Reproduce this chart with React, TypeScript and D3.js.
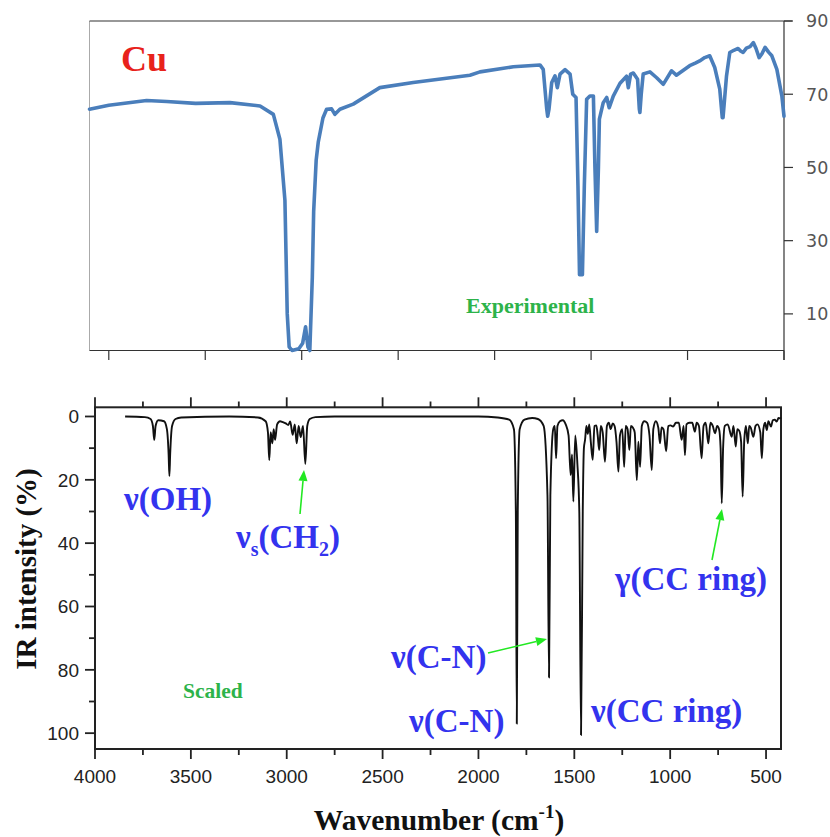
import React from "react";
import * as d3 from "d3";

// ---------- Data ----------
// Experimental spectrum (top): wavenumber (cm-1) and transmittance (%)
const expWn = [4000, 3900, 3704, 3600, 3450, 3272, 3116, 3047, 3013, 2987, 2975, 2965, 2950, 2915, 2895, 2880, 2868, 2858, 2845, 2838, 2825, 2814, 2790, 2771, 2745, 2728, 2702, 2633, 2495, 2322, 2028, 1976, 1803, 1665, 1648, 1630, 1625, 1618, 1604, 1587, 1575, 1561, 1535, 1509, 1495, 1478, 1468, 1460, 1445, 1435, 1423, 1406, 1388, 1380, 1371, 1362, 1357, 1337, 1319, 1306, 1285, 1250, 1216, 1207, 1195, 1181, 1159, 1150, 1147, 1140, 1130, 1095, 1060, 1026, 983, 958, 889, 860, 837, 811, 785, 759, 733, 720, 716, 698, 681, 660, 638, 625, 612, 595, 576, 559, 545, 529, 515, 498, 480, 463, 437, 411, 400];
const expT = [65.9, 67.0, 68.3, 68.0, 67.5, 67.7, 66.8, 64.5, 57.7, 41, 10, 1, 0, 0.5, 2, 6.5, 1, 0, 20, 38, 52, 57, 63.5, 65.9, 66, 64.5, 65.9, 67.3, 71.8, 73.2, 75.2, 76.1, 77.5, 78.0, 76.8, 66, 64, 66, 73.2, 75, 71.8, 75.5, 76.7, 75.5, 70, 69.1, 45, 20.7, 20.7, 45, 68.6, 69.5, 69.5, 50, 32.5, 50, 63.2, 67.7, 69.1, 66.3, 69.5, 73, 74.9, 71.8, 75.5, 75.8, 74.1, 66, 65, 70, 75.5, 76.1, 74.5, 72.7, 76.4, 75.2, 77.8, 78.5, 79.1, 80, 80.5, 77.3, 71.4, 63.6, 63.6, 75, 81.4, 82.0, 82.5, 81.8, 81.4, 82.6, 83, 84.1, 82.5, 80, 81, 82.8, 81.5, 80.5, 76.8, 69.5, 64];

// Scaled (calculated) spectrum (bottom): wavenumber and IR intensity (%)
const calcWn = [3843, 3740, 3710, 3698, 3691, 3684, 3670, 3640, 3625, 3616, 3612, 3608, 3598, 3580, 3550, 3300, 3150, 3110, 3098, 3091, 3084, 3075, 3068, 3061, 3050, 3035, 3020, 3005, 2992, 2982, 2969, 2958, 2948, 2938, 2927, 2915, 2903, 2893, 2880, 2850, 2750, 2000, 1900, 1840, 1815, 1805, 1800, 1795, 1785, 1760, 1720, 1690, 1660, 1640, 1632, 1625, 1610, 1602, 1595, 1588, 1575, 1560, 1545, 1530, 1519, 1512, 1505, 1495, 1484, 1474, 1465, 1456, 1450, 1444, 1437, 1430, 1422, 1414, 1404, 1395, 1385, 1378, 1370, 1362, 1352, 1340, 1330, 1320, 1310, 1300, 1290, 1280, 1270, 1262, 1250, 1240, 1232, 1222, 1213, 1205, 1195, 1185, 1174, 1166, 1157, 1148, 1135, 1120, 1108, 1096, 1088, 1075, 1062, 1053, 1045, 1035, 1021, 1010, 998, 985, 970, 955, 940, 930, 923, 915, 900, 885, 871, 862, 850, 836, 826, 815, 801, 790, 778, 766, 755, 745, 737, 731, 724, 715, 700, 679, 670, 658, 650, 640, 630, 622, 614, 605, 595, 588, 580, 566, 555, 545, 530, 522, 514, 505, 496, 488, 474, 465, 455, 444, 435, 427, 422];
const calcI = [0, 0.2, 0.8, 3, 7.4, 3, 1.2, 1.5, 4, 12, 18.8, 12, 3, 0.8, 0.3, 0, 0.3, 1.5, 5, 13.8, 5, 8.5, 4, 7.4, 2.5, 1.5, 1.8, 2.2, 2.7, 1.6, 5.8, 2.5, 8.5, 3, 6.5, 3, 15.0, 3, 0.8, 0.2, 0, 0, 0.3, 1, 4, 30, 97, 30, 4, 1, 0.5, 0.8, 3, 25, 82.4, 25, 4, 3, 13.2, 3, 1.5, 1.2, 2.5, 6, 18.5, 12, 26.9, 6, 15, 30, 100.6, 30, 10, 7.4, 3, 5.5, 2.5, 8, 13.7, 3, 2.8, 6, 10.6, 3, 5, 14.3, 3, 2, 4, 2.2, 3, 8, 17.4, 6, 4, 15.9, 3, 4, 10.6, 3, 3.5, 5, 20.1, 8, 15.9, 3, 1.5, 2, 6, 16.9, 4, 1.5, 3.5, 8.5, 3.5, 4, 11, 3, 2.8, 3.2, 2, 2, 7.4, 3, 12.2, 2.5, 2, 2, 4.8, 2, 3, 13.2, 3, 2, 8.5, 2, 3, 5.3, 3, 4, 10, 27.4, 10, 3, 2.5, 6.4, 3, 9.5, 4, 4.5, 8, 25.3, 8, 3, 8.5, 3, 3.5, 6.4, 3, 2.5, 5, 13.2, 4, 2, 4.3, 1.5, 3.2, 1.2, 1, 1.6, 0.5, 0.6, 0.3];

// Tick values
const topYTicks = [10, 30, 50, 70, 90];
const topXTicks = [3900, 3400, 2900, 2400, 1900, 1400, 900, 400];
const botXMajor = [4000, 3500, 3000, 2500, 2000, 1500, 1000, 500];
const botXMinor = [3750, 3250, 2750, 2250, 1750, 1250, 750];
const botYMajor = [0, 20, 40, 60, 80, 100];
const botYMinor = [10, 30, 50, 70, 90];

const SERIF = "'Liberation Serif', 'Times New Roman', serif";
const SANS = "'Liberation Sans', Arial, sans-serif";
const BLUE_TXT = "#3333ee";
const ARROW = "#22e822";

export default function App() {
  // Top panel scales
  const xT = d3.scaleLinear().domain([4000, 400]).range([89.5, 784]);
  const yT = d3.scaleLinear().domain([0, 90]).range([350.5, 21]);
  // Bottom panel scales
  const xB = d3.scaleLinear().domain([4000, 422]).range([95, 781]);
  const yB = d3.scaleLinear().domain([-2.9, 105]).range([407.3, 749]);

  const expPts = expWn.map((w, i) => [w, expT[i]] as [number, number]);
  const calcPts = calcWn.map((w, i) => [w, calcI[i]] as [number, number]);

  const topLine = d3
    .line<[number, number]>()
    .x((d) => xT(d[0]))
    .y((d) => yT(d[1]))
    .curve(d3.curveLinear)(expPts) as string;

  const botLine = d3
    .line<[number, number]>()
    .x((d) => xB(d[0]))
    .y((d) => yB(d[1]))
    .curve(d3.curveMonotoneX)(calcPts) as string;

  const arrow = (x1: number, y1: number, x2: number, y2: number) => {
    const ang = Math.atan2(y2 - y1, x2 - x1);
    const L = 11, W = 4.5;
    const bx = x2 - L * Math.cos(ang), by = y2 - L * Math.sin(ang);
    const px = -Math.sin(ang) * W, py = Math.cos(ang) * W;
    return (
      <g>
        <line x1={x1} y1={y1} x2={bx} y2={by} stroke={ARROW} strokeWidth={1.6} />
        <polygon points={`${x2},${y2} ${bx + px},${by + py} ${bx - px},${by - py}`} fill={ARROW} />
      </g>
    );
  };

  return (
    <svg width={830} height={837} style={{ position: "absolute", left: 0, top: 0, background: "#fff" }}>
      <rect x={0} y={0} width={830} height={837} fill="#fff" />
      {/* ---------- TOP PANEL ---------- */}
      <line x1={89.5} y1={21} x2={89.5} y2={350.5} stroke="#aaa" strokeWidth={1} />
      <line x1={89.5} y1={21} x2={792} y2={21} stroke="#333" strokeWidth={1.2} />
      <line x1={89.5} y1={350.5} x2={784} y2={350.5} stroke="#333" strokeWidth={1.2} />
      <line x1={784} y1={21} x2={784} y2={360} stroke="#333" strokeWidth={1.2} />
      {topXTicks.map((t) => (
        <line key={"tx" + t} x1={xT(t)} x2={xT(t)} y1={350.5} y2={360} stroke="#333" strokeWidth={1.2} />
      ))}
      {topYTicks.map((t) => (
        <g key={"ty" + t}>
          <line x1={784} x2={793} y1={yT(t)} y2={yT(t)} stroke="#333" strokeWidth={1.2} />
          <text x={806} y={yT(t)} dy="0.36em" fontFamily="'DejaVu Sans', Verdana, sans-serif" fontSize={17.5} fill="#555">
            {t}
          </text>
        </g>
      ))}
      <path d={topLine} fill="none" stroke="#4a7ebb" strokeWidth={3.6} strokeLinejoin="round" strokeLinecap="round" />
      <text x={121} y={71} fontFamily={SERIF} fontWeight="bold" fontSize={36} fill="#e8221b">Cu</text>
      <text x={466} y={313} fontFamily={SERIF} fontWeight="bold" fontSize={22} fill="#2db34a">Experimental</text>

      {/* ---------- BOTTOM PANEL ---------- */}
      <rect x={95} y={407.3} width={686} height={341.7} fill="none" stroke="#222" strokeWidth={2} />
      {botXMajor.map((t) => (
        <g key={"bx" + t}>
          <line x1={xB(t)} x2={xB(t)} y1={749} y2={759} stroke="#222" strokeWidth={1.8} />
          <line x1={xB(t)} x2={xB(t)} y1={407.3} y2={397.3} stroke="#222" strokeWidth={1.8} />
          <text x={xB(t)} y={783} textAnchor="middle" fontFamily={SANS} fontSize={19} fill="#222">
            {t}
          </text>
        </g>
      ))}
      {botXMinor.map((t) => (
        <g key={"bxm" + t}>
          <line x1={xB(t)} x2={xB(t)} y1={749} y2={755} stroke="#222" strokeWidth={1.8} />
          <line x1={xB(t)} x2={xB(t)} y1={407.3} y2={401.5} stroke="#222" strokeWidth={1.8} />
        </g>
      ))}
      {botYMajor.map((t) => (
        <g key={"by" + t}>
          <line x1={85} x2={95} y1={yB(t)} y2={yB(t)} stroke="#222" strokeWidth={1.8} />
          <text x={79} y={yB(t)} dy="0.36em" textAnchor="end" fontFamily={SANS} fontSize={19} fill="#222">
            {t}
          </text>
        </g>
      ))}
      {botYMinor.map((t) => (
        <line key={"bym" + t} x1={89} x2={95} y1={yB(t)} y2={yB(t)} stroke="#222" strokeWidth={1.8} />
      ))}
      <path d={botLine} fill="none" stroke="#111" strokeWidth={1.9} strokeLinejoin="round" />

      {/* Axis titles */}
      <text transform="translate(36,569) rotate(-90)" textAnchor="middle" fontFamily={SERIF} fontWeight="bold" fontSize={29} fill="#111">
        IR intensity (%)
      </text>
      <text x={439} y={830} textAnchor="middle" fontFamily={SERIF} fontWeight="bold" fontSize={29.5} fill="#111">
        Wavenumber (cm<tspan fontSize={19} dy={-12}>-1</tspan><tspan dy={12}>)</tspan>
      </text>

      {/* Annotations */}
      <g fontFamily={SERIF} fontWeight="bold" fill={BLUE_TXT} fontSize={33}>
        <text x={124} y={510}>ν(OH)</text>
        <text x={236} y={548}>
          ν<tspan fontSize={20} dy={8}>s</tspan>
          <tspan dy={-8}>(CH</tspan>
          <tspan fontSize={20} dy={8}>2</tspan>
          <tspan dy={-8}>)</tspan>
        </text>
        <text x={391} y={668}>ν(C-N)</text>
        <text x={409} y={732}>ν(C-N)</text>
        <text x={591} y={722}>ν(CC ring)</text>
        <text x={615} y={590}>γ(CC ring)</text>
      </g>
      <text x={183} y={698} fontFamily={SERIF} fontWeight="bold" fontSize={21.5} fill="#2db34a">Scaled</text>

      {arrow(300, 514, 304, 470)}
      {arrow(488, 653, 547, 639)}
      {arrow(712, 560, 722, 509)}
    </svg>
  );
}
